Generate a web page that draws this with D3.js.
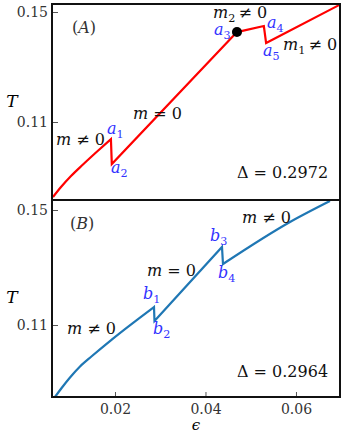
<!DOCTYPE html>
<html>
<head>
<meta charset="utf-8">
<script src="https://cdn.jsdelivr.net/npm/d3@7"></script>
<style>
  body { margin: 0; background: #fff; }
  svg { display: block; }
  text { font-family: "DejaVu Serif", "Liberation Serif", serif; }
</style>
</head>
<body>
<svg id="chart" width="345" height="434"></svg>
<script>
// curve (A), red
var epsA  = [0.0063, 0.00807, 0.01028, 0.01293, 0.01580, 0.0191, 0.0193, 0.04696, 0.0529, 0.0534, 0.0695];
var tempA = [0.08273, 0.08636, 0.09036, 0.09455, 0.09891, 0.1038, 0.0947, 0.1427, 0.1449, 0.1387, 0.1525];
// smooth branches of (A) as [first, last] index; jumps between them are straight
var branchesA = [[0, 5], [6, 7], [7, 8], [9, 10]];

// curve (B), blue
var epsB  = [0.00674, 0.00829, 0.01006, 0.01227, 0.01492, 0.01956, 0.02862, 0.02873, 0.04365, 0.04387, 0.05868, 0.06752];
var tempB = [0.08496, 0.08826, 0.09174, 0.09557, 0.09922, 0.10530, 0.11626, 0.11139, 0.13713, 0.13122, 0.14583, 0.15313];
var branchesB = [[0, 6], [7, 8], [9, 11]];

// the black point in (A)
var dotEps = [0.04696];
var dotT   = [0.1427];

var xTicks = [0.02, 0.04, 0.06];
var yTicks = [0.11, 0.15];

// annotations: [eps, T, parts, color]  parts: [text, style] style: i=italic, s=subscript
var labelsA = [
    [0.01050, 0.14236, [["(", ""], ["A", "i"], [")", ""]], "#333"],
    [0.04166, 0.14800, [["m", "i"], ["2", "s"], ["\u2009≠ 0", ""]], "#111"],
    [0.04188, 0.1418,  [["a", "i"], ["3", "s"]], "#3333ff"],
    [0.05359, 0.14418, [["a", "i"], ["4", "s"]], "#3333ff"],
    [0.0527,  0.1340,  [["a", "i"], ["5", "s"]], "#3333ff"],
    [0.05713, 0.13618, [["m", "i"], ["1", "s"], ["\u2009≠ 0", ""]], "#111"],
    [0.0240,  0.11127, [["m", "i"], [" = 0", ""]], "#111"],
    [0.01823, 0.10564, [["a", "i"], ["1", "s"]], "#3333ff"],
    [0.01912, 0.09145, [["a", "i"], ["2", "s"]], "#3333ff"],
    [0.00696, 0.10164, [["m", "i"], [" ≠ 0", ""]], "#111"],
    [0.04696, 0.08964, [["Δ = 0.2972", ""]], "#111"]
];
var labelsB = [
    [0.01006, 0.14339, [["(", ""], ["B", "i"], [")", ""]], "#333"],
    [0.04807, 0.14548, [["m", "i"], [" ≠ 0", ""]], "#111"],
    [0.04100, 0.13922, [["b", "i"], ["3", "s"]], "#3333ff"],
    [0.04277, 0.12635, [["b", "i"], ["4", "s"]], "#3333ff"],
    [0.02707, 0.12704, [["m", "i"], [" = 0", ""]], "#111"],
    [0.02619, 0.11904, [["b", "i"], ["1", "s"]], "#3333ff"],
    [0.02840, 0.10687, [["b", "i"], ["2", "s"]], "#3333ff"],
    [0.00939, 0.10687, [["m", "i"], [" ≠ 0", ""]], "#111"],
    [0.04696, 0.09191, [["Δ = 0.2964", ""]], "#111"]
];

var svg = d3.select("#chart");
var left = 52, right = 340;

var x = d3.scaleLinear().domain([0.00608, 0.06973]).range([left, right]);
var yA = d3.scaleLinear().domain([0.08164, 0.15291]).range([200, 4]);
var yB = d3.scaleLinear().domain([0.08496, 0.15348]).range([397, 200]);

function addText(g, px, py, parts, color, size) {
    var t = g.append("text")
        .attr("x", px).attr("y", py)
        .style("font-size", size + "px")
        .style("white-space", "pre")
        .attr("fill", color);
    var shifted = false;
    parts.forEach(function(p) {
        var ts = t.append("tspan").text(p[0]);
        if (p[1] == "i") ts.style("font-style", "italic");
        if (p[1] == "s") {
            ts.style("font-size", (size * 0.7) + "px").attr("dy", size * 0.27);
            shifted = true;
        } else if (shifted) {
            ts.attr("dy", -size * 0.27);
            shifted = false;
        }
    });
    return t;
}

function panel(y, top, bottom, epsList, tList, branches, color, labels, id, showX) {
    var g = svg.append("g");

    svg.append("clipPath").attr("id", id)
        .append("rect").attr("x", left).attr("y", top)
        .attr("width", right - left).attr("height", bottom - top);

    var line = d3.line()
        .x(function(i) { return x(epsList[i]); })
        .y(function(i) { return y(tList[i]); })
        .curve(d3.curveMonotoneX);

    // each branch smooth, joined to the previous one by a straight jump
    var d = branches.map(function(b, k) {
        var s = line(d3.range(b[0], b[1] + 1));
        return k == 0 ? s : "L" + s.slice(1);
    }).join("");

    g.append("path")
        .attr("clip-path", "url(#" + id + ")")
        .attr("fill", "none")
        .attr("stroke", color)
        .attr("stroke-width", 2.2)
        .attr("stroke-linejoin", "miter")
        .attr("d", d);

    // y axis, ticks pointing inward
    var ay = g.append("g")
        .attr("transform", "translate(" + left + ",0)")
        .call(d3.axisLeft(y).tickValues(yTicks).tickFormat(d3.format(".2f"))
              .tickSize(-6).tickPadding(4));
    ay.select(".domain").remove();
    ay.selectAll("text").style("font-size", "14px").attr("fill", "#333")
        .style("font-family", "DejaVu Serif");
    ay.selectAll("line").attr("stroke", "#555");

    if (showX) {
        var ax = g.append("g")
            .attr("transform", "translate(0," + bottom + ")")
            .call(d3.axisBottom(x).tickValues(xTicks).tickFormat(d3.format(".2f"))
                  .tickSize(-5).tickPadding(7));
        ax.select(".domain").remove();
        ax.selectAll("text").style("font-size", "14px").attr("fill", "#333")
            .style("font-family", "DejaVu Serif");
        ax.selectAll("line").attr("stroke", "#555");
    }

    labels.forEach(function(l) {
        addText(g, x(l[0]), y(l[1]), l[2], l[3], 16);
    });

    // T label
    g.append("text")
        .attr("x", 12).attr("y", (top + bottom) / 2 - 1)
        .attr("text-anchor", "middle")
        .attr("dy", "0.35em")
        .style("font-size", "17px")
        .style("font-style", "italic")
        .text("T");

    g.append("rect")
        .attr("x", left).attr("y", top)
        .attr("width", right - left).attr("height", bottom - top)
        .attr("fill", "none")
        .attr("stroke", "#111")
        .attr("stroke-width", 2);
    return g;
}

var gA = panel(yA, 4, 200, epsA, tempA, branchesA, "red", labelsA, "clipA", false);
gA.selectAll(".dot")
    .data(dotEps)
    .enter().append("circle")
    .attr("class", "dot")
    .attr("cx", function(d) { return x(d); })
    .attr("cy", function(d, i) { return yA(dotT[i]); })
    .attr("r", 5)
    .attr("fill", "black");

panel(yB, 200, 397, epsB, tempB, branchesB, "#1f77b4", labelsB, "clipB", true);

// x label
svg.append("text")
    .attr("x", 196).attr("y", 430)
    .attr("text-anchor", "middle")
    .style("font-size", "15px")
    .style("font-style", "italic")
    .text("ϵ");
</script>
</body>
</html>
